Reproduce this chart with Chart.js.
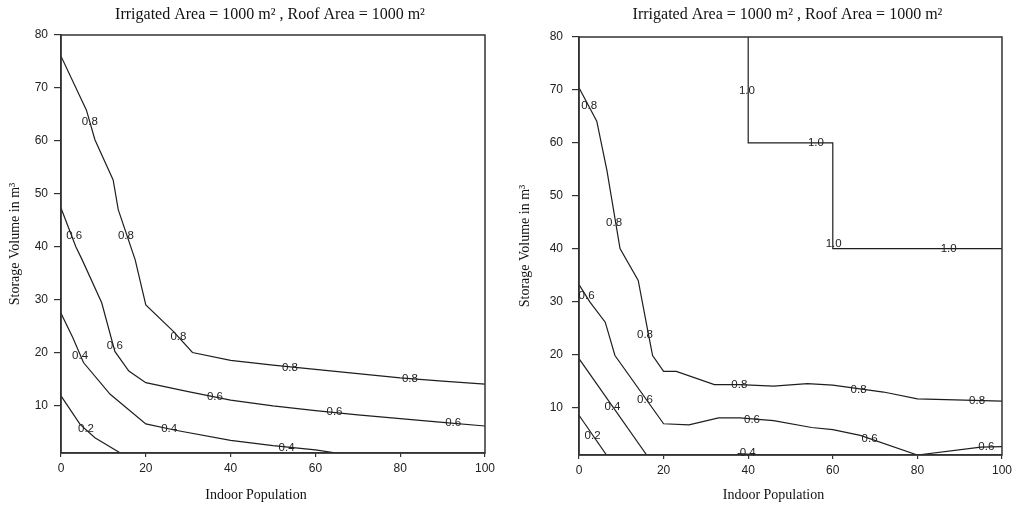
<!DOCTYPE html>
<html>
<head>
<meta charset="utf-8">
<script src="https://cdn.jsdelivr.net/npm/chart.js@4"></script>
<style>
  body { margin: 0; background: #fff; }
  .box { position: absolute; top: 0; width: 508px; height: 506px; }
  #wrapA { left: 0; }
  #wrapB { left: 508px; }
</style>
</head>
<body>
<div class="box" id="wrapA"><canvas id="chartA"></canvas></div>
<div class="box" id="wrapB"><canvas id="chartB"></canvas></div>
<script>
// ---- data ----
const titleText = 'Irrigated Area = 1000 m² , Roof Area = 1000 m²';
const xTitle = 'Indoor Population';
const yTitle = 'Storage Volume in m³';
const xTicks = [0, 20, 40, 60, 80, 100];
const yTicks = [10, 20, 30, 40, 50, 60, 70, 80];

// left panel contours
const leftX08 = [0, 6, 8, 12.3, 13.5, 17.5, 20, 26.5, 31, 40, 50, 60, 70, 80, 90, 100];
const leftY08 = [76, 65.8, 60.2, 52.6, 47, 37.5, 29, 24, 20, 18.5, 17.6, 16.8, 16, 15.2, 14.6, 14];
const leftX06 = [0, 3.5, 5, 9.6, 12.7, 16, 20, 30, 40, 50, 60, 70, 80, 90, 100];
const leftY06 = [47.3, 40, 37.5, 29.4, 20.2, 16.5, 14.3, 12.6, 11, 9.9, 9.0, 8.2, 7.5, 6.8, 6.1];
const leftX04 = [0, 2.8, 5.3, 11.6, 20, 27, 40, 50, 60, 65];
const leftY04 = [27.4, 22.8, 18.1, 12.1, 6.5, 5.3, 3.4, 2.4, 1.6, 1];
const leftX02 = [0, 4.5, 8, 14];
const leftY02 = [11.8, 6.4, 3.9, 1];

const leftLabelText = ['0.8', '0.8', '0.8', '0.8', '0.8', '0.6', '0.6', '0.6', '0.6', '0.6', '0.4', '0.4', '0.4', '0.2'];
const leftLabelX = [6.8, 15.3, 27.7, 54, 82.3, 3.1, 12.7, 36.3, 64.5, 92.5, 4.5, 25.5, 53.2, 5.9];
const leftLabelY = [63.5, 42.1, 22.9, 17.1, 15, 42, 21.2, 11.6, 8.7, 6.7, 19.3, 5.6, 2, 5.6];

// right panel contours
const rightX10 = [40, 40, 60, 60, 100];
const rightY10 = [80, 60, 60, 40, 40];
const rightX08 = [0, 4.2, 6.6, 9.7, 14, 16.4, 17.4, 20, 23, 32, 38, 46, 54, 60, 72, 80, 100];
const rightY08 = [70.4, 64.1, 54.8, 40, 34, 23.9, 19.8, 16.8, 16.8, 14.3, 14.3, 14, 14.5, 14.2, 12.9, 11.6, 11.2];
const rightX06 = [0, 2.6, 6.2, 8.5, 20, 26, 33, 38, 46, 55, 60, 66.5, 80, 95, 100];
const rightY06 = [33.2, 29.9, 26.1, 19.8, 6.9, 6.7, 8, 8, 7.5, 6.2, 5.8, 4.7, 1, 2.5, 2.6];
const rightX04 = [0, 16];
const rightY04 = [19.2, 1];
const rightX04b = [37.5, 43];
const rightY04b = [1.25, 1.05];
const rightX02 = [0, 6.5];
const rightY02 = [8.5, 1];

const rightLabelText = ['1.0', '1.0', '1.0', '1.0', '0.8', '0.8', '0.8', '0.8', '0.8', '0.8', '0.6', '0.6', '0.6', '0.6', '0.6', '0.4', '0.4', '0.2'];
const rightLabelX = [39.7, 56, 60.2, 87.4, 2.4, 8.3, 15.6, 37.9, 66.1, 94.1, 1.8, 15.6, 40.9, 68.7, 96.3, 7.9, 39.9, 3.2];
const rightLabelY = [69.8, 60, 41, 40, 66.9, 44.9, 23.7, 14.3, 13.3, 11.2, 31, 11.5, 7.7, 4.1, 2.5, 10.1, 1.4, 4.7];

// ---- helpers ----
function pts(xs, ys) {
    return xs.map((x, i) => ({ x: x, y: ys[i] }));
}

function contour(xs, ys) {
    return {
        data: pts(xs, ys),
        showLine: true,
        borderColor: '#1e1e1e',
        borderWidth: 1.2,
        pointRadius: 0,
        tension: 0,
        fill: false
    };
}

// frame, titles and contour labels
const decor = {
    id: 'decor',
    afterDatasetsDraw(chart, args, opts) {
        const ctx = chart.ctx;
        const a = chart.chartArea;
        const sx = chart.scales.x, sy = chart.scales.y;
        ctx.save();
        ctx.strokeStyle = '#333';
        ctx.lineWidth = 1.5;
        ctx.strokeRect(a.left, a.top, a.right - a.left, a.bottom - a.top);

        // contour labels
        ctx.fillStyle = '#222';
        ctx.font = '11.5px "Liberation Sans", Arial, sans-serif';
        ctx.textAlign = 'center';
        ctx.textBaseline = 'middle';
        opts.labelText.forEach((t, i) => {
            ctx.fillText(t, sx.getPixelForValue(opts.labelX[i]), sy.getPixelForValue(opts.labelY[i]));
        });

        // titles
        ctx.fillStyle = '#111';
        ctx.font = '16px "Liberation Serif", "Times New Roman", serif';
        ctx.fillText(titleText, (a.left + a.right) / 2 - 3, 15);
        ctx.font = '14px "Liberation Serif", "Times New Roman", serif';
        ctx.fillText(xTitle, (a.left + a.right) / 2 - 17, 495);
        ctx.translate(opts.yTitleX, (a.top + a.bottom) / 2);
        ctx.rotate(-Math.PI / 2);
        ctx.fillText(yTitle, 0, 0);
        ctx.restore();
    }
};

function makeChart(id, datasets, o) {
    const tickFont = { size: 12, family: '"Liberation Sans", Arial, sans-serif' };
    new Chart(document.getElementById(id).getContext('2d'), {
        type: 'scatter',
        data: { datasets: datasets },
        options: {
            responsive: true,
            maintainAspectRatio: false,
            animation: false,
            layout: { padding: { top: o.top, right: o.right, left: 0, bottom: 0 } },
            scales: {
                x: {
                    type: 'linear',
                    min: 0,
                    max: 100,
                    afterBuildTicks: s => { s.ticks = xTicks.map(v => ({ value: v })); },
                    afterFit: s => { s.height = o.xHeight; },
                    ticks: { font: tickFont, color: '#222', padding: 4 },
                    grid: { drawOnChartArea: false, drawTicks: true, tickLength: 4, color: '#333', lineWidth: 1.2 },
                    border: { color: '#333', width: 1.5 }
                },
                y: {
                    type: 'linear',
                    min: 1,
                    max: 80,
                    afterBuildTicks: s => { s.ticks = yTicks.map(v => ({ value: v })); },
                    afterFit: s => { s.width = o.yWidth; },
                    ticks: { font: tickFont, color: '#222', padding: o.yPad },
                    grid: { drawOnChartArea: false, drawTicks: true, tickLength: 7, color: '#333', lineWidth: 1.2 },
                    border: { color: '#333', width: 1.5 }
                }
            },
            plugins: {
                legend: { display: false },
                tooltip: { enabled: false },
                decor: { labelText: o.labelText, labelX: o.labelX, labelY: o.labelY, yTitleX: o.yTitleX }
            }
        },
        plugins: [decor]
    });
}

makeChart('chartA', [
    contour(leftX08, leftY08),
    contour(leftX06, leftY06),
    contour(leftX04, leftY04),
    contour(leftX02, leftY02)
], {
    top: 35, right: 23, xHeight: 53, yWidth: 61, yPad: 6, yTitleX: 15,
    labelText: leftLabelText, labelX: leftLabelX, labelY: leftLabelY
});

makeChart('chartB', [
    contour(rightX10, rightY10),
    contour(rightX08, rightY08),
    contour(rightX06, rightY06),
    contour(rightX04, rightY04),
    contour(rightX04b, rightY04b),
    contour(rightX02, rightY02)
], {
    top: 37, right: 14, xHeight: 51, yWidth: 71, yPad: 9, yTitleX: 17,
    labelText: rightLabelText, labelX: rightLabelX, labelY: rightLabelY
});
</script>
</body>
</html>
